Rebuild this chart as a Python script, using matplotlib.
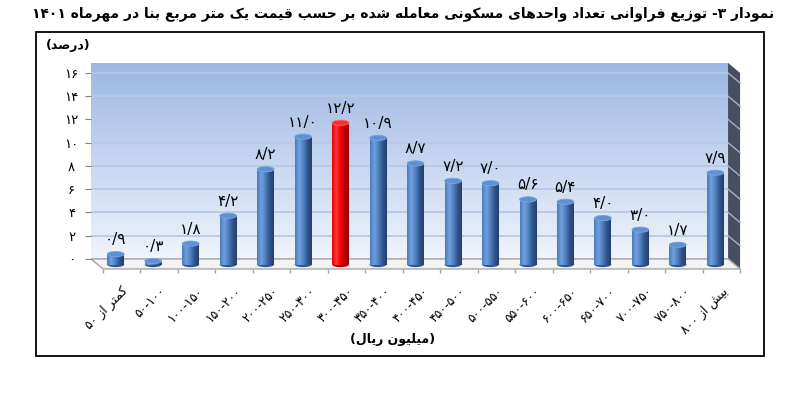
import re

import matplotlib

matplotlib.use("Agg")
import matplotlib.pyplot as plt
import numpy as np
from matplotlib.colors import LinearSegmentedColormap
from matplotlib.patches import Ellipse, Polygon, Rectangle

# data
title = "نمودار ۳- توزیع فراوانی تعداد واحدهای مسکونی معامله شده بر حسب قیمت یک متر مربع بنا در مهرماه ۱۴۰۱"
y_label = "(درصد)"
x_label = "(میلیون ریال)"
categories = ["کمتر از ۵۰", "۵۰-۱۰۰", "۱۰۰-۱۵۰", "۱۵۰-۲۰۰", "۲۰۰-۲۵۰", "۲۵۰-۳۰۰",
              "۳۰۰-۳۵۰", "۳۵۰-۴۰۰", "۴۰۰-۴۵۰", "۴۵۰-۵۰۰", "۵۰۰-۵۵۰", "۵۵۰-۶۰۰",
              "۶۰۰-۶۵۰", "۶۵۰-۷۰۰", "۷۰۰-۷۵۰", "۷۵۰-۸۰۰", "بیش از ۸۰۰"]
values = [0.9, 0.3, 1.8, 4.2, 8.2, 11.0, 12.2, 10.9, 8.7, 7.2, 7.0, 5.6, 5.4,
          4.0, 3.0, 1.7, 7.9]
highlight = "۳۰۰-۳۵۰"
y_ticks = [0, 2, 4, 6, 8, 10, 12, 14, 16]

# --- minimal Persian shaping (matplotlib has no bidi / joining) -------------
FORMS = {  # isolated, final[, initial, medial]
    "ا": (0xFE8D, 0xFE8E), "د": (0xFEA9, 0xFEAA), "ر": (0xFEAD, 0xFEAE),
    "ز": (0xFEAF, 0xFEB0), "و": (0xFEED, 0xFEEE),
    "ب": (0xFE8F, 0xFE90, 0xFE91, 0xFE92), "ت": (0xFE95, 0xFE96, 0xFE97, 0xFE98),
    "ح": (0xFEA1, 0xFEA2, 0xFEA3, 0xFEA4), "س": (0xFEB1, 0xFEB2, 0xFEB3, 0xFEB4),
    "ش": (0xFEB5, 0xFEB6, 0xFEB7, 0xFEB8), "ص": (0xFEB9, 0xFEBA, 0xFEBB, 0xFEBC),
    "ع": (0xFEC9, 0xFECA, 0xFECB, 0xFECC), "ف": (0xFED1, 0xFED2, 0xFED3, 0xFED4),
    "ق": (0xFED5, 0xFED6, 0xFED7, 0xFED8), "ل": (0xFEDD, 0xFEDE, 0xFEDF, 0xFEE0),
    "م": (0xFEE1, 0xFEE2, 0xFEE3, 0xFEE4), "ن": (0xFEE5, 0xFEE6, 0xFEE7, 0xFEE8),
    "ه": (0xFEE9, 0xFEEA, 0xFEEB, 0xFEEC), "ک": (0xFB8E, 0xFB8F, 0xFB90, 0xFB91),
    "ی": (0xFBFC, 0xFBFD, 0xFBFE, 0xFBFF),
}
PDIG = str.maketrans("0123456789.", "۰۱۲۳۴۵۶۷۸۹/")


def shape(s):
    out = []
    for i, ch in enumerate(s):
        f = FORMS.get(ch)
        if f is None:
            out.append(ch)
            continue
        prev = s[i - 1] if i > 0 else ""
        nxt = s[i + 1] if i + 1 < len(s) else ""
        jp = prev in FORMS and len(FORMS[prev]) == 4
        jn = len(f) == 4 and nxt in FORMS
        out.append(chr(f[3] if jp and jn else f[1] if jp else f[2] if jn else f[0]))
    return "".join(out)


def fa(s):
    t = shape(s)[::-1]
    t = re.sub(r"[۰-۹]+(?:[/\-][۰-۹]+)*", lambda m: m.group(0)[::-1], t)
    return t.translate(str.maketrans("()", ")("))


plt.rcParams["font.family"] = ["DejaVu Sans"]

fig = plt.figure(figsize=(8.04, 3.95), dpi=100)
ax = fig.add_axes([0.1132, 0.315, 0.811, 0.5256])

x = np.arange(len(values))
dx, dy = 0.32, -0.86          # 3-D depth offset (data units)
top = 16.86

# back wall
wall = LinearSegmentedColormap.from_list("wall", ["#F0F4FB", "#9DB7E4"])
ax.imshow(np.linspace(0, 1, 100)[:, None], cmap=wall, origin="lower",
          extent=[-0.5, 16.5, 0, top], aspect="auto", zorder=0)
ax.hlines(y_ticks, -0.5, 16.5, color="#B7C9E6", lw=1.3, zorder=1)

# side wall + floor
ax.add_patch(Polygon([(16.5, 0), (16.5 + dx, dy), (16.5 + dx, top + dy), (16.5, top)],
                     closed=True, fc="#474E60", ec="none", zorder=1))
for g in y_ticks:
    ax.plot([16.5, 16.5 + dx], [g, g + dy], color="#A9B1C2", lw=1.0, zorder=1)
ax.add_patch(Polygon([(-0.5, 0), (16.5, 0), (16.5 + dx, dy), (-0.5 + dx, dy)],
                     closed=True, fc="#F3F3F3", ec="#A6A6A6", lw=1.0, zorder=1))
ax.vlines(np.arange(len(values) + 1) - 0.5 + dx, dy - 0.35, dy, color="#A6A6A6",
          lw=1.0, zorder=1, clip_on=False)

# cylinders
blue = LinearSegmentedColormap.from_list(
    "blue", ["#4C7BBC", "#70A0DF", "#5080C0", "#30548A", "#22406E"])
red = LinearSegmentedColormap.from_list(
    "red", ["#E80000", "#FF3838", "#F20000", "#BC0000", "#920000"])
w, eh, base = 0.45, 0.45, dy / 2 - 0.05
bars = ax.bar(x + dx / 2, values, w, bottom=base, color="none", zorder=3)
for cat, v, b in zip(categories, values, bars):
    hot = cat == highlight
    cmap = red if hot else blue
    cx = b.get_x() + w / 2
    ax.add_patch(Ellipse((cx, base), w, eh, fc="#A00000" if hot else "#2F5590",
                         ec="none", zorder=2))
    im = ax.imshow(np.linspace(0, 1, 64)[None, :], cmap=cmap, aspect="auto",
                   extent=[b.get_x(), b.get_x() + w, base, base + v], zorder=3)
    im.set_clip_path(b)
    ax.add_patch(Ellipse((cx, base + v), w, eh, fc="#FF2A2A" if hot else "#6090D4",
                         ec="#FF6A6A" if hot else "#7CA6E0", lw=0.6, zorder=4))
    ax.annotate(str(v).translate(PDIG), (cx, base + v), xytext=(0, 5),
                textcoords="offset points", ha="center", va="bottom", fontsize=11)
ax.set_xlim(-0.5, 16.9)
ax.set_ylim(-1.0, top)

for s in ax.spines.values():
    s.set_visible(False)
ax.set_yticks(y_ticks)
ax.set_yticklabels([str(t).translate(PDIG) for t in y_ticks])
ax.tick_params(axis="y", length=4, color="#808080", pad=10, labelsize=9.5)
for lbl in ax.get_yticklabels():
    lbl.set_ha("center")
ax.set_xticks(x + dx)
ax.set_xticklabels([fa(c) for c in categories], rotation=45, ha="right",
                   rotation_mode="anchor", fontsize=9)
ax.tick_params(axis="x", length=0, pad=10)

ax.set_ylabel(fa(y_label), rotation=0, fontweight="bold", fontsize=9,
              ha="center", va="center")
ax.yaxis.set_label_coords(-0.035, 1.082)
ax.set_xlabel(fa(x_label), fontweight="bold", fontsize=9, va="center")
ax.xaxis.set_label_coords(0.462, -0.334)

fig.text(0.502, 1 - 14 / 395, fa(title), ha="center", va="center",
         fontweight="bold", fontsize=10)
fig.patches.append(Rectangle((36 / 804, 39 / 395), 728 / 804, 324 / 395,
                             transform=fig.transFigure, fill=False, ec="black", lw=1.3))

fig.savefig("out.png", dpi=100)
